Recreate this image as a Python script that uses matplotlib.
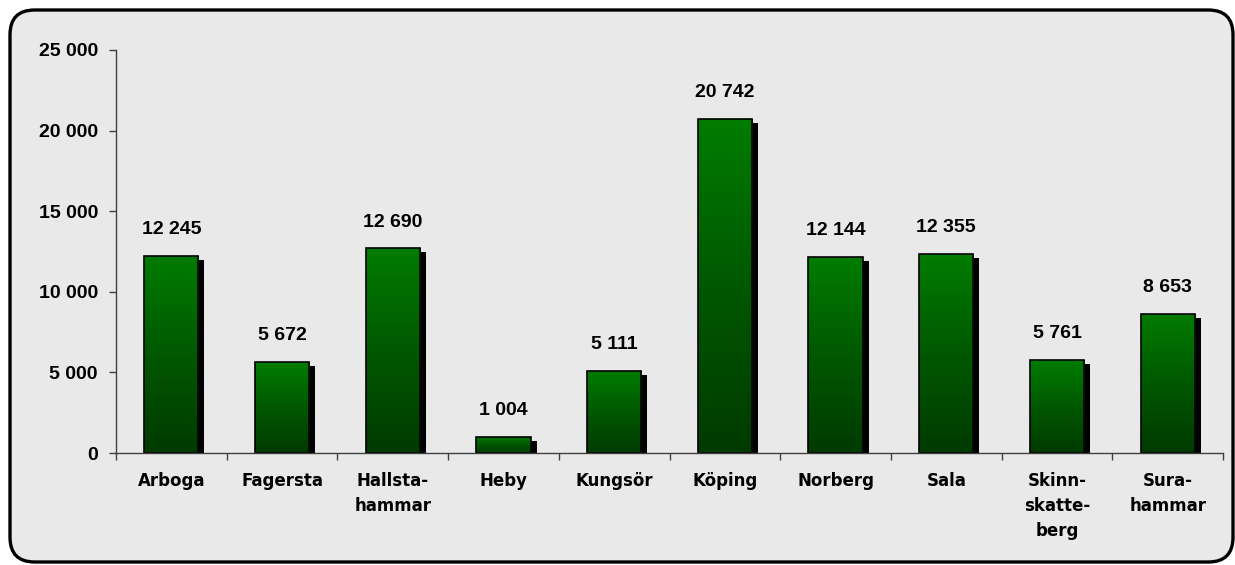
import matplotlib
matplotlib.use("Agg")
import matplotlib.pyplot as plt
import numpy as np
from matplotlib.patches import FancyBboxPatch, Rectangle
from matplotlib.ticker import FuncFormatter, FixedLocator
from matplotlib.colors import LinearSegmentedColormap
import matplotlib.transforms as mtransforms

categories = ["Arboga", "Fagersta", "Hallsta-\nhammar", "Heby", "Kungsör", "Köping",
              "Norberg", "Sala", "Skinn-\nskatte-\nberg", "Sura-\nhammar"]
values = [12245, 5672, 12690, 1004, 5111, 20742, 12144, 12355, 5761, 8653]
yticks = [0, 5000, 10000, 15000, 20000, 25000]

plt.rcParams['font.family'] = ['Liberation Sans', 'DejaVu Sans']

W, H = 1235, 565
fig = plt.figure(figsize=(W / 100, H / 100), dpi=100, facecolor="white")

# rounded background frame
frame = FancyBboxPatch((10 / W, 3 / H), (1223 / W), (552 / H),
                       boxstyle="round,pad=0,rounding_size=0.02",
                       transform=fig.transFigure, facecolor="#e9e9e9",
                       edgecolor="black", linewidth=2.4, mutation_aspect=W / H,
                       zorder=-10)
fig.patches.append(frame)

ax_left, ax_right = 116 / W, 1223 / W
ax_bottom, ax_top = (H - 453) / H, (H - 50) / H
ax = fig.add_axes([ax_left, ax_bottom, ax_right - ax_left, ax_top - ax_bottom])
ax.set_facecolor("none")

n = len(categories)
x = np.arange(n)
width = 0.49

grad = np.linspace(0, 1, 256).reshape(-1, 1)
cmap = LinearSegmentedColormap.from_list("g", ["#003a00", "#005800", "#007c00"])

shadow_tr = mtransforms.offset_copy(ax.transData, fig=fig, x=6, y=-4, units="dots")
for xi, v in zip(x, values):
    sh = Rectangle((xi - width / 2, 0), width, v, transform=shadow_tr,
                   facecolor="black", edgecolor="none", zorder=2, clip_on=True)
    ax.add_patch(sh)
    im = ax.imshow(grad, extent=(xi - width / 2, xi + width / 2, 0, v), origin="lower",
                   cmap=cmap, aspect="auto", zorder=3, interpolation="bilinear")
    clip = Rectangle((xi - width / 2, 0), width, v, transform=ax.transData)
    im.set_clip_path(clip)
    rect = Rectangle((xi - width / 2, 0), width, v, facecolor="none",
                     edgecolor="black", linewidth=1.2, zorder=4)
    ax.add_patch(rect)
    ax.annotate(f"{v:,}".replace(",", " "), (xi, v), xytext=(0, 19),
                textcoords="offset points", ha="center", va="center",
                fontsize=14, fontweight="bold", color="black")

ax.set_xlim(-0.5, n - 0.5)
ax.set_ylim(0, 25000)

for s in ["top", "right"]:
    ax.spines[s].set_visible(False)
for s in ["left", "bottom"]:
    ax.spines[s].set_color("#404040")
    ax.spines[s].set_linewidth(1.0)
    ax.spines[s].set_zorder(5)

ax.set_yticks(yticks)
ax.yaxis.set_major_formatter(FuncFormatter(lambda v, p: f"{int(v):,}".replace(",", " ")))
ax.tick_params(axis="y", direction="out", length=5, width=1, color="#404040",
               labelsize=14, pad=8)
for lab in ax.get_yticklabels():
    lab.set_fontweight("bold")

ax.xaxis.set_major_locator(FixedLocator(np.arange(-0.5, n, 1.0)))
ax.xaxis.set_major_formatter(FuncFormatter(lambda v, p: ""))
ax.xaxis.set_minor_locator(FixedLocator(x))
ax.set_xticklabels(categories, minor=True)
ax.tick_params(axis="x", which="major", direction="out", length=5, width=1, color="#404040")
ax.tick_params(axis="x", which="minor", length=0, pad=14, labelsize=12)
for lab in ax.get_xticklabels(minor=True):
    lab.set_fontweight("bold")
    lab.set_family("DejaVu Sans")
    lab.set_linespacing(1.5)
    lab.set_verticalalignment("top")

fig.savefig("out.png", dpi=100, facecolor="white")
